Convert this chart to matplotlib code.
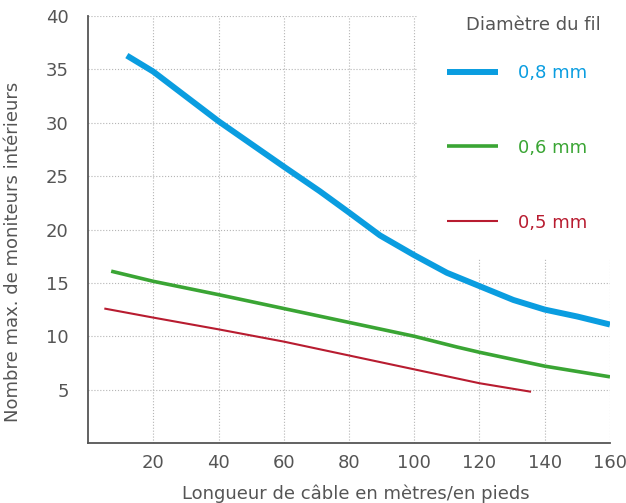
import matplotlib
matplotlib.use('Agg')
import matplotlib.pyplot as plt
from matplotlib.patches import Rectangle

# ---- data ----
x_08 = [11.9, 20, 40, 60, 71, 80, 89.5, 100, 110, 120, 130.4, 140, 150, 160]
y_08 = [36.3, 34.8, 30.15, 25.9, 23.6, 21.6, 19.45, 17.6, 15.95, 14.7, 13.4, 12.5, 11.85, 11.1]

x_06 = [7.1, 20, 40, 60, 80, 100, 113, 120, 140, 160]
y_06 = [16.1, 15.15, 13.9, 12.6, 11.3, 10.0, 9.0, 8.5, 7.2, 6.2]

x_05 = [5.0, 20, 40, 60, 80, 100, 120, 135.8]
y_05 = [12.6, 11.75, 10.65, 9.5, 8.2, 6.9, 5.6, 4.8]

x_ticks = [20, 40, 60, 80, 100, 120, 140, 160]
y_ticks = [5, 10, 15, 20, 25, 30, 35, 40]

labels = ['0,8 mm', '0,6 mm', '0,5 mm']
colors = ['#0a9de0', '#3aa534', '#b81c30']
widths = [4.3, 2.6, 1.5]

plt.rcParams['font.family'] = ['DejaVu Sans']
TXT = '#555555'
FS = 13

fig = plt.figure(figsize=(6.26, 5.03), dpi=100)
ax = fig.add_axes([0.1406, 0.1193, 0.8338, 0.8487])

for xs, ys, lab, c, w in zip([x_08, x_06, x_05], [y_08, y_06, y_05], labels, colors, widths):
    ax.plot(xs, ys, color=c, lw=w, label=lab, solid_capstyle='butt', zorder=3)

ax.set_xlim(0, 160)
ax.set_ylim(0, 40)
ax.set_xticks(x_ticks)
ax.set_yticks(y_ticks)
ax.tick_params(length=0, labelsize=FS, labelcolor=TXT)
ax.tick_params(axis='y', pad=14)
ax.tick_params(axis='x', pad=8)

ax.grid(True, linestyle=':', color='#b5b5b5', linewidth=0.8)
ax.set_axisbelow(True)
for s in ['top', 'right']:
    ax.spines[s].set_visible(False)
for s in ['left', 'bottom']:
    ax.spines[s].set_color('#555555')
    ax.spines[s].set_linewidth(1.3)

# white area behind the legend hides the grid there
ax.add_patch(Rectangle((0.632, 0.43), 0.368, 0.57, transform=ax.transAxes,
                       facecolor='white', edgecolor='none', zorder=1))

ax.set_xlabel('Longueur de câble en mètres/en pieds', fontsize=FS, color=TXT)
ax.set_ylabel('Nombre max. de moniteurs intérieurs', fontsize=FS, color=TXT)
ax.xaxis.set_label_coords(0.514, -0.098)
ax.yaxis.set_label_coords(-0.126, 0.447)

ax.text(0.983, 0.979, 'Diamètre du fil', transform=ax.transAxes, ha='right',
        va='center', fontsize=FS, color=TXT, zorder=4)
leg = ax.legend(loc='upper left', bbox_to_anchor=(0.688, 0.888), fontsize=FS,
                frameon=False, handlelength=2.8, handletextpad=1.1,
                labelspacing=3.15, borderpad=0, borderaxespad=0)
for t, c in zip(leg.get_texts(), colors):
    t.set_color(c)

fig.savefig('out.png', dpi=100)
